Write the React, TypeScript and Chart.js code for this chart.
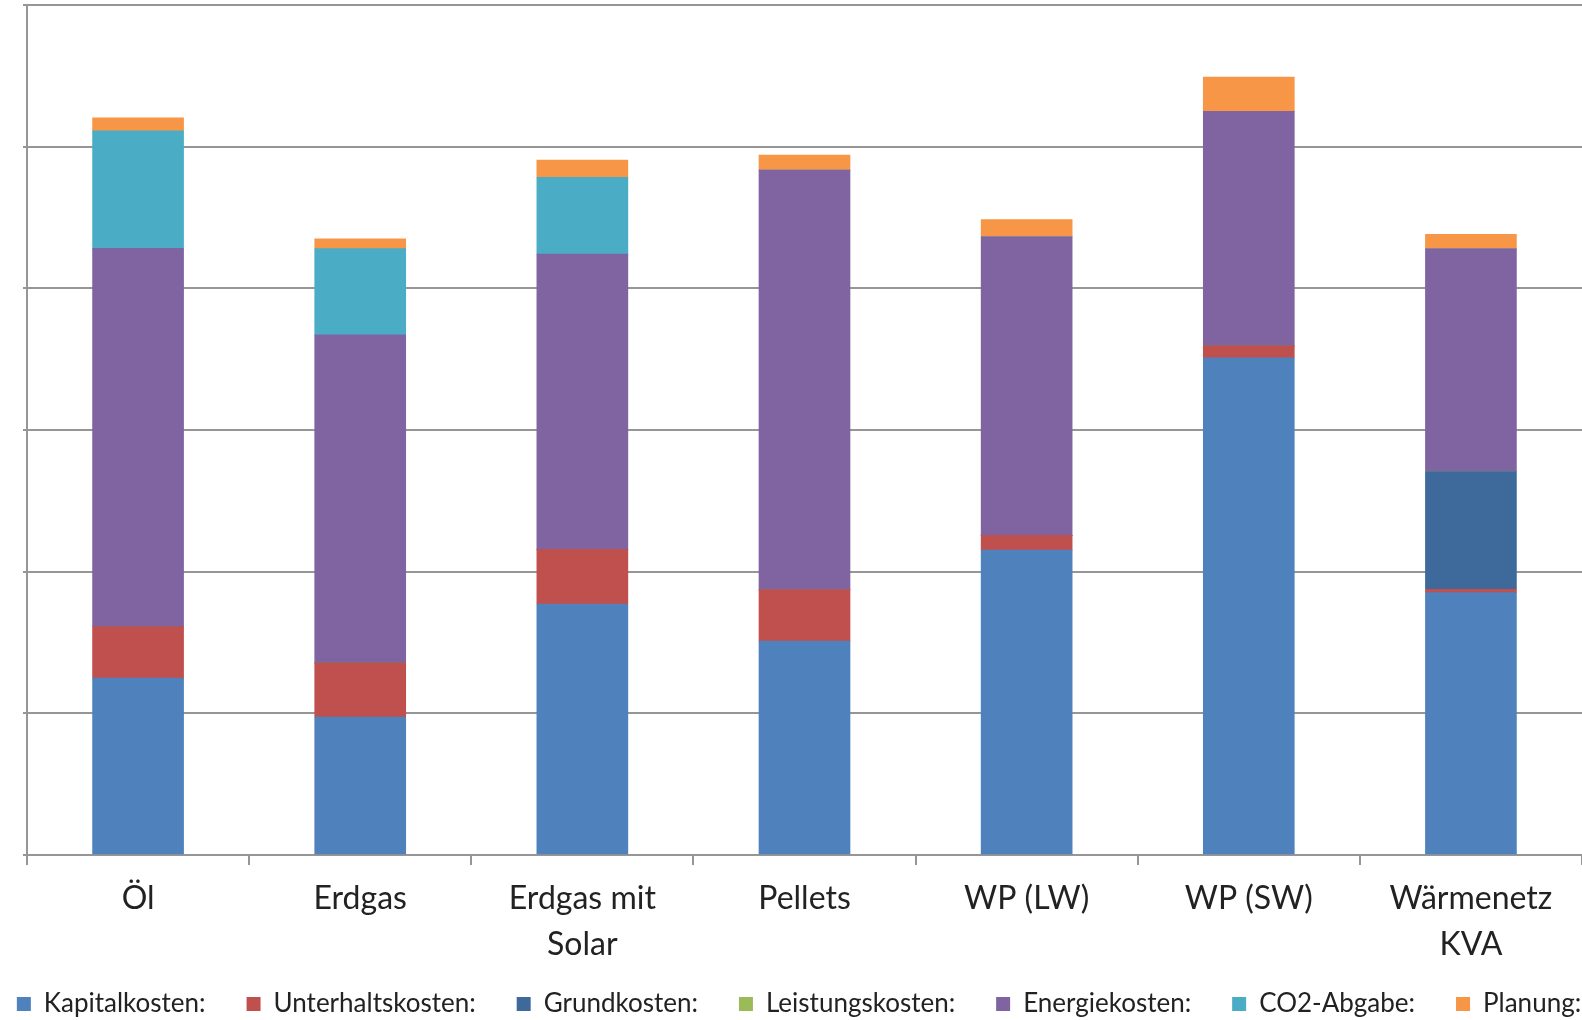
import React, { useEffect, useRef } from "react";
import { Chart, registerables } from "chart.js";

Chart.register(...registerables);

const categories: (string | string[])[] = [
  "Öl",
  "Erdgas",
  ["Erdgas mit", "Solar"],
  "Pellets",
  "WP (LW)",
  "WP (SW)",
  ["Wärmenetz", "KVA"],
];

const kapitalkosten = [6.24, 4.87, 8.86, 7.55, 10.76, 17.55, 9.26];
const unterhaltskosten = [1.82, 1.91, 1.93, 1.82, 0.52, 0.42, 0.12];
const grundkosten = [0, 0, 0, 0, 0, 0, 4.15];
const leistungskosten = [0, 0, 0, 0, 0, 0, 0];
const energiekosten = [13.35, 11.58, 10.42, 14.8, 10.54, 8.28, 7.86];
const co2Abgabe = [4.15, 3.04, 2.71, 0, 0, 0, 0];
const planung = [0.46, 0.35, 0.61, 0.53, 0.61, 1.21, 0.52];

const seriesNames = [
  "Kapitalkosten:",
  "Unterhaltskosten:",
  "Grundkosten:",
  "Leistungskosten:",
  "Energiekosten:",
  "CO2-Abgabe:",
  "Planung:",
];
const seriesValues = [
  kapitalkosten,
  unterhaltskosten,
  grundkosten,
  leistungskosten,
  energiekosten,
  co2Abgabe,
  planung,
];
const seriesColors = [
  "#4F81BD",
  "#C0504D",
  "#3E6A9B",
  "#9BBB59",
  "#8064A2",
  "#4BACC6",
  "#F79646",
];

const yMin = 0;
const yMax = 30;
const yStep = 5;

const GRID = "#969696";
const TEXT = "#222222";
const FONT = "Lato, 'Open Sans', sans-serif";

// lets the two-line category labels extend below the axis box without being clipped
const labelRoomPlugin = {
  id: "labelRoom",
  afterLayout(chart: any) {
    const s = chart.scales.x;
    if (s) {
      s.bottom = s.top + 130;
      s.height = 130;
    }
  },
};

export default function App() {
  const ref = useRef<HTMLCanvasElement | null>(null);

  useEffect(() => {
    if (!ref.current) return;
    const chart = new Chart(ref.current, {
      type: "bar",
      data: {
        labels: categories,
        datasets: seriesNames.map((name, i) => ({
          label: name,
          data: seriesValues[i],
          backgroundColor: seriesColors[i],
          borderColor: seriesColors[i],
          borderWidth: 0,
          barThickness: 91,
          yAxisID: "y",
        })),
      },
      plugins: [labelRoomPlugin],
      options: {
        animation: false,
        responsive: true,
        maintainAspectRatio: false,
        layout: { padding: { left: -32, right: -48, top: 5, bottom: 0 }, autoPadding: false },
        plugins: {
          tooltip: { enabled: false },
          legend: {
            position: "bottom",
            maxHeight: 70,
            labels: {
              boxWidth: 14,
              boxHeight: 14,
              padding: 41,
              color: TEXT,
              font: { family: FONT, size: 26 },
            },
          },
        },
        scales: {
          x: {
            stacked: true,
            grid: {
              display: true,
              drawOnChartArea: false,
              drawTicks: true,
              tickLength: 10,
              color: GRID,
              lineWidth: 2,
            },
            border: { display: true, color: GRID, width: 2 },
            ticks: {
              color: TEXT,
              padding: 11,
              maxRotation: 0,
              autoSkip: false,
              font: { family: FONT, size: 32, lineHeight: 1.44 },
            },
            afterFit: (scale: any) => {
              scale.height = 95;
            },
          },
          y: {
            stacked: true,
            position: "left",
            min: yMin,
            max: yMax,
            grid: {
              color: GRID,
              lineWidth: 2,
              drawTicks: true,
              tickLength: 4,
            },
            border: { display: true, color: GRID, width: 2 },
            ticks: { display: false, stepSize: yStep },
            afterFit: (scale: any) => {
              scale.width = 59;
            },
          },
          yRight: {
            position: "right",
            display: true,
            min: yMin,
            max: yMax,
            grid: { display: false, drawTicks: false },
            border: { display: false },
            ticks: { display: false },
            afterFit: (scale: any) => {
              scale.width = 48;
            },
          },
        },
      },
    });
    return () => chart.destroy();
  }, []);

  return (
    <div
      style={{
        position: "absolute",
        left: 0,
        top: 0,
        width: "1582px",
        height: "1020px",
        background: "#ffffff",
      }}
    >
      <canvas ref={ref} />
    </div>
  );
}
